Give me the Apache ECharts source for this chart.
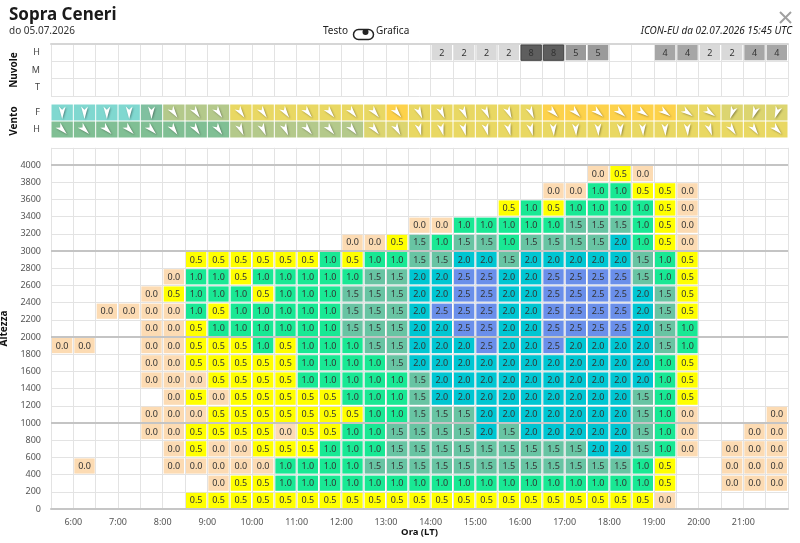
<!DOCTYPE html>
<html>
<head>
<meta charset="utf-8">
<script src="https://cdn.jsdelivr.net/npm/echarts@6/dist/echarts.min.js"></script>
<style>
  html, body { margin: 0; padding: 0; background: #fff; }
  #chart { width: 800px; height: 543px; }
</style>
</head>
<body>
<div id="chart"></div>
<script>
var _ = null;

// time slots: 33 half-hour columns starting at 5:30
var startHour = 5.5;
var slotHours = 0.5;
var lastHour = 22;

// altitude bands (bottom of each 200 m band)
var levels = [0, 200, 400, 600, 800, 1000, 1200, 1400, 1600, 1800,
              2000, 2200, 2400, 2600, 2800, 3000, 3200, 3400, 3600, 3800];
var levelStep = 200;
var majorLevels = [1000, 2000, 3000, 4000];

// clouds (octas) per level H / M / T
var cloudRows = ['T', 'M', 'H'];
var cloudH = [_,_,_,_,_,_,_,_,_,_,_,_,_,_,_,_,_, 2,2,2,2,8,8,5,5, _,_, 4,4,2,2,4,4];
var cloudM = [];
var cloudT = [];

// wind: colour class (speed) and direction (deg, where it blows from)
var windRows = ['H', 'F'];
var windFClass = [1,1,1,1,2,4,4,4,6,6,6,6,6,6,6,7,6,6,6,6,6,6,7,7,7,7,7,7,6,6,5,5,5];
var windHClass = [3,3,3,3,3,3,3,3,4,4,4,4,4,4,5,5,6,6,6,6,6,6,6,6,6,6,6,6,6,6,6,6,6];
var windFDir = [360,360,360,360,360,325,325,325,325,325,325,320,320,320,320,320,
                335,335,335,335,335,335,315,315,310,310,305,305,305,305,20,20,20];
var windHDir = [315,315,315,315,315,325,325,325,335,335,335,320,320,320,320,330,
                345,345,345,345,345,345,357,357,357,357,357,357,357,340,325,325,315];

// thermal climb (m/s), one row per altitude band, bottom to top
var climb = [
  [_,_,_,_,_,_,.5,.5,.5,.5,.5,.5,.5,.5,.5,.5,.5,.5,.5,.5,.5,.5,.5,.5,.5,.5,.5,0,_,_,_,_,_],
  [_,_,_,_,_,_,_,0,.5,.5,1,1,1,1,1,1,1,1,1,1,1,1,1,1,1,1,1,.5,_,_,0,0,0],
  [_,0,_,_,_,0,0,0,0,0,1,1,1,1,1.5,1.5,1.5,1.5,1.5,1.5,1.5,1.5,1.5,1.5,1.5,1.5,1,.5,_,_,0,0,0],
  [_,_,_,_,_,0,.5,0,0,.5,.5,.5,1,1,1,1.5,1.5,1.5,1.5,1.5,1.5,1.5,1.5,1.5,2,2,1.5,1,0,_,0,0,0],
  [_,_,_,_,0,0,.5,.5,.5,.5,0,.5,.5,1,1,1.5,1.5,1.5,1.5,2,1.5,2,2,2,2,2,1.5,1,0,_,_,0,0],
  [_,_,_,_,0,0,0,.5,.5,.5,.5,.5,.5,.5,1,1,1.5,1.5,1.5,2,2,2,2,2,2,2,1.5,1,0,_,_,_,0],
  [_,_,_,_,_,0,.5,0,.5,.5,.5,.5,.5,1,1,1,1.5,2,2,2,2,2,2,2,2,2,1.5,1,.5,_,_,_,_],
  [_,_,_,_,0,0,0,.5,.5,.5,.5,1,1,1,1,1,1.5,2,2,2,2,2,2,2,2,2,2,1,.5,_,_,_,_],
  [_,_,_,_,0,0,.5,.5,.5,.5,.5,1,1,1,1,1.5,2,2,2,2,2,2,2,2,2,2,2,1,.5,_,_,_,_],
  [0,0,_,_,0,0,.5,.5,.5,1,.5,1,1,1,1.5,1.5,2,2,2,2.5,2,2,2.5,2,2,2,2,1.5,1,_,_,_,_],
  [_,_,_,_,0,0,.5,1,1,1,1,1,1,1.5,1.5,1.5,2,2,2.5,2.5,2,2,2.5,2.5,2.5,2.5,2,1.5,1,_,_,_,_],
  [_,_,0,0,0,0,1,.5,1,1,1,1,1,1.5,1.5,1.5,2,2.5,2.5,2.5,2,2,2.5,2.5,2.5,2.5,2,1.5,.5,_,_,_,_],
  [_,_,_,_,0,.5,1,1,1,.5,1,1,1,1.5,1.5,1.5,2,2,2.5,2.5,2,2,2.5,2.5,2.5,2.5,2,1.5,.5,_,_,_,_],
  [_,_,_,_,_,0,1,1,.5,1,1,1,1,1,1.5,1.5,2,2,2.5,2.5,2,2,2.5,2.5,2.5,2.5,1.5,1,.5,_,_,_,_],
  [_,_,_,_,_,_,.5,.5,.5,.5,.5,.5,1,.5,1,1,1.5,1.5,2,2,1.5,2,2,2,2,2,1.5,1,.5,_,_,_,_],
  [_,_,_,_,_,_,_,_,_,_,_,_,_,0,0,.5,1.5,1,1.5,1.5,1,1.5,1.5,1.5,1.5,2,1,.5,0,_,_,_,_],
  [_,_,_,_,_,_,_,_,_,_,_,_,_,_,_,_,0,0,1,1,1,1,1,1.5,1.5,1.5,1,.5,0,_,_,_,_],
  [_,_,_,_,_,_,_,_,_,_,_,_,_,_,_,_,_,_,_,_,.5,1,.5,1,1,1,1,.5,0,_,_,_,_],
  [_,_,_,_,_,_,_,_,_,_,_,_,_,_,_,_,_,_,_,_,_,_,0,0,1,1,.5,.5,0,_,_,_,_],
  [_,_,_,_,_,_,_,_,_,_,_,_,_,_,_,_,_,_,_,_,_,_,_,_,0,.5,0,_,_,_,_,_,_]
];

var climbColors = { '0': '#fcdbb3', '0.5': '#ffff00', '1': '#19e894', '1.5': '#68c4a3', '2': '#00c6d2', '2.5': '#6a8fea' };
var cloudColors = { 2: '#d9d9d9', 4: '#a6a6a6', 5: '#9a9a9a', 8: '#5e5e5e' };
var windColors = [_, '#80d8d0', '#80c0a0', '#80bf94', '#b4c98b', '#dcd570', '#e9d863', '#fdd24b'];

var FONT = '"Noto Sans", sans-serif';

// build series data
function slotX(i) { return startHour + i * slotHours; }

var cloudData = [];
[cloudT, cloudM, cloudH].forEach(function (row, r) {
  row.forEach(function (v, i) { if (v != null) cloudData.push([slotX(i), r, v]); });
});

var windData = [];
[[windHClass, windHDir], [windFClass, windFDir]].forEach(function (pair, r) {
  pair[0].forEach(function (c, i) { windData.push([slotX(i), r, c, pair[1][i]]); });
});

var climbData = [];
climb.forEach(function (row, r) {
  row.forEach(function (v, i) { if (v != null) climbData.push([slotX(i), levels[r], v]); });
});

function renderCloud(params, api) {
  var x0 = api.value(0), v = api.value(2);
  var c = api.coord([x0, api.value(1)]);
  var s = api.size([slotHours, 1]);
  var x = c[0] + 1, y = c[1] - s[1] / 2 + 1, w = s[0] - 2, h = s[1] - 2;
  return {
    type: 'group',
    children: [
      { type: 'rect', shape: { x: x, y: y, width: w, height: h },
        style: { fill: cloudColors[v], stroke: v >= 8 ? '#444' : null, lineWidth: 1 } },
      { type: 'text', x: x + w / 2, y: y + h / 2 + 0.5,
        style: { text: String(v), align: 'center', verticalAlign: 'middle', fill: '#333', font: '9px ' + FONT } }
    ]
  };
}

function renderWind(params, api) {
  var x0 = api.value(0), cls = api.value(2), dir = api.value(3);
  var c = api.coord([x0, api.value(1)]);
  var s = api.size([slotHours, 1]);
  var x = c[0] + 0.5, y = c[1] - s[1] / 2 + 0.5, w = s[0] - 1, h = s[1] - 1;
  var a = (360 - dir) * Math.PI / 180;
  var cx = x + w / 2, cy = y + h / 2;
  var pts = [[0, 6.5], [3.4, -6], [0, -2.8], [-3.4, -6]].map(function (p) {
    return [cx + p[0] * Math.cos(a) + p[1] * Math.sin(a), cy - p[0] * Math.sin(a) + p[1] * Math.cos(a)];
  });
  return {
    type: 'group',
    children: [
      { type: 'rect', shape: { x: x, y: y, width: w, height: h }, style: { fill: windColors[cls] } },
      { type: 'polygon', shape: { points: pts },
        style: { fill: '#fff', shadowBlur: 2, shadowColor: 'rgba(0,0,0,0.35)', shadowOffsetX: 1, shadowOffsetY: 1 } }
    ]
  };
}

function renderClimb(params, api) {
  var x0 = api.value(0), y0 = api.value(1), v = api.value(2);
  var p = api.coord([x0, y0 + levelStep]);
  var q = api.coord([x0 + slotHours, y0]);
  var x = p[0] + 1, y = p[1] + 1, w = q[0] - p[0] - 2, h = q[1] - p[1] - 2;
  return {
    type: 'group',
    children: [
      { type: 'rect', shape: { x: x, y: y, width: w, height: h }, style: { fill: climbColors[String(v)] } },
      { type: 'text', x: x + w / 2, y: y + h / 2 + 0.5,
        style: { text: v.toFixed(1), align: 'center', verticalAlign: 'middle', fill: '#333', font: '9px ' + FONT } }
    ]
  };
}

var gridLine = { lineStyle: { color: '#e3e3e3', width: 1 } };

var option = {
  animation: false,
  backgroundColor: '#fff',
  textStyle: { fontFamily: FONT },
  graphic: {
    elements: [
      { type: 'text', left: 9, top: 7, style: { text: 'Sopra Ceneri', font: 'bold 17px ' + FONT, fill: '#1a1a1a' } },
      { type: 'text', left: 9, top: 26, style: { text: 'do 05.07.2026', font: '10px ' + FONT, fill: '#333' } },
      { type: 'text', left: 323, top: 26, style: { text: 'Testo', font: '10px ' + FONT, fill: '#222' } },
      { type: 'rect', left: 351, top: 27, shape: { width: 20, height: 10, r: 5 }, style: { fill: 'none', stroke: '#222', lineWidth: 1.5 } },
      { type: 'circle', left: 362.5, top: 29, shape: { r: 3 }, style: { fill: '#222' } },
      { type: 'text', left: 376, top: 26, style: { text: 'Grafica', font: '10px ' + FONT, fill: '#222' } },
      { type: 'text', right: 8, top: 26, style: { text: 'ICON-EU da 02.07.2026 15:45 UTC', font: 'italic 10px ' + FONT, fill: '#222' } },
      { type: 'line', shape: { x1: 780, y1: 12, x2: 791, y2: 23 }, style: { stroke: '#a0a0a0', lineWidth: 2 } },
      { type: 'line', shape: { x1: 791, y1: 12, x2: 780, y2: 23 }, style: { stroke: '#a0a0a0', lineWidth: 2 } }
    ]
  },
  grid: [
    { left: 51, right: 12, top: 44, height: 52, outerBoundsMode: 'none' },
    { left: 51, right: 12, top: 104, height: 34, outerBoundsMode: 'none' },
    { left: 51, right: 12, top: 147.8, height: 361.2, outerBoundsMode: 'none' }
  ],
  xAxis: [
    { type: 'value', gridIndex: 0, min: startHour, max: lastHour, interval: slotHours, position: 'top',
      axisLine: { show: true, lineStyle: { color: '#d6d6d6', width: 2 } }, axisTick: { show: false },
      axisLabel: { show: false }, splitLine: gridLine },
    { type: 'value', gridIndex: 1, min: startHour, max: lastHour, interval: slotHours,
      axisLine: { show: false }, axisTick: { show: false }, axisLabel: { show: false }, splitLine: { show: false } },
    { type: 'value', gridIndex: 2, min: startHour, max: lastHour, interval: slotHours,
      axisLine: { show: true, lineStyle: { color: '#c6c6c6', width: 2 } }, axisTick: { show: false },
      axisLabel: { color: '#555', fontSize: 9, margin: 9,
        formatter: function (v) { return (v % 1 === 0 && v < lastHour) ? v + ':00' : ''; } },
      splitLine: gridLine,
      name: 'Ora (LT)', nameLocation: 'middle', nameGap: 18, nameMoveOverlap: false,
      nameTextStyle: { color: '#111', fontSize: 9.5, fontWeight: 'bold' } }
  ],
  yAxis: [
    { type: 'category', gridIndex: 0, data: cloudRows,
      axisLine: { show: false }, axisTick: { show: false },
      axisLabel: { color: '#444', fontSize: 9, margin: 11 },
      splitLine: { show: true, interval: 0, lineStyle: { color: '#e3e3e3' } },
      name: 'Nuvole', nameLocation: 'middle', nameRotate: 90, nameGap: 32,
      nameTextStyle: { color: '#111', fontSize: 10, fontWeight: 'bold' } },
    { type: 'category', gridIndex: 1, data: windRows,
      axisLine: { show: false }, axisTick: { show: false },
      axisLabel: { color: '#444', fontSize: 9, margin: 11 },
      splitLine: { show: false },
      name: 'Vento', nameLocation: 'middle', nameRotate: 90, nameGap: 32,
      nameTextStyle: { color: '#111', fontSize: 10, fontWeight: 'bold' } },
    { type: 'value', gridIndex: 2, min: 0, max: 4200, interval: levelStep,
      axisLine: { show: false }, axisTick: { show: false },
      axisLabel: { color: '#555', fontSize: 9, margin: 10,
        formatter: function (v) { return v > 4000 ? '' : String(v); } },
      splitLine: gridLine,
      name: 'Altezza', nameLocation: 'middle', nameRotate: 90, nameGap: 32,
      nameTextStyle: { color: '#111', fontSize: 10, fontWeight: 'bold' } }
  ],
  series: [
    { type: 'line', xAxisIndex: 2, yAxisIndex: 2, data: [], z: 1, silent: true,
      markLine: { silent: true, symbol: 'none', label: { show: false },
        lineStyle: { color: '#c4c4c4', width: 2, type: 'solid' },
        data: majorLevels.map(function (l) { return { yAxis: l }; }) } },
    { type: 'custom', xAxisIndex: 0, yAxisIndex: 0, data: cloudData, renderItem: renderCloud, z: 3 },
    { type: 'custom', xAxisIndex: 1, yAxisIndex: 1, data: windData, renderItem: renderWind, z: 3 },
    { type: 'custom', xAxisIndex: 2, yAxisIndex: 2, data: climbData, renderItem: renderClimb, z: 3 }
  ]
};

var myChart = echarts.init(document.getElementById('chart'));
myChart.setOption(option);
</script>
</body>
</html>
